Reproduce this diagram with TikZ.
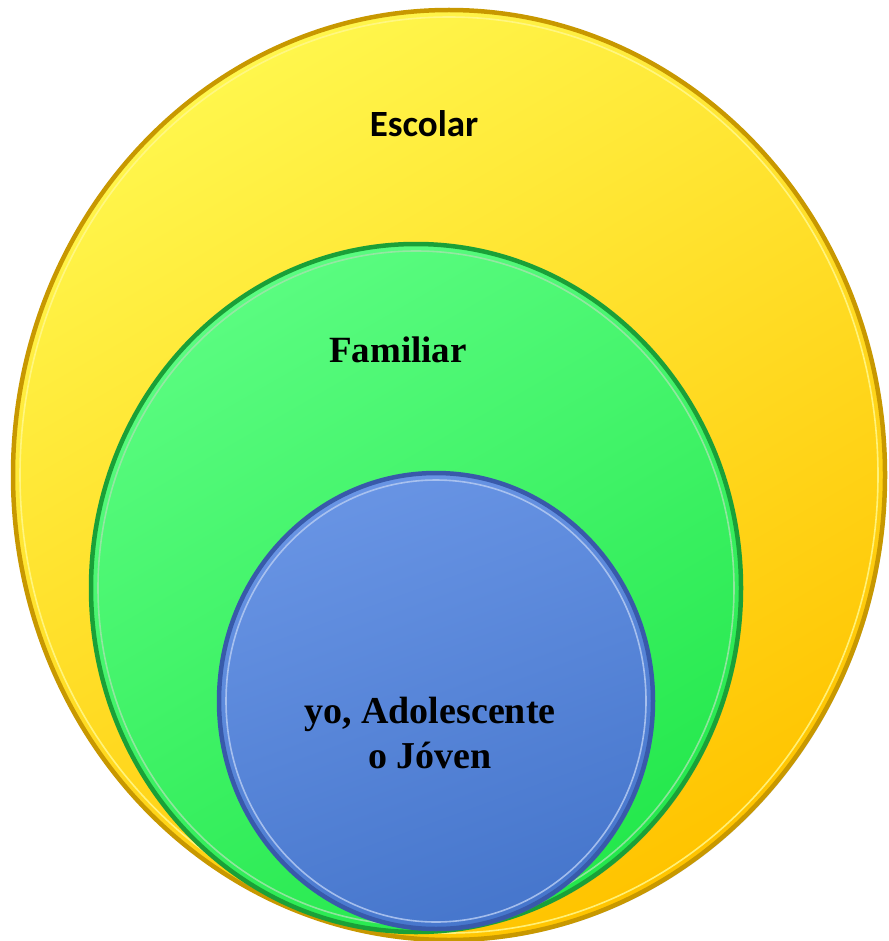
\documentclass[tikz,border=0pt]{standalone}
\usepackage{fontspec}
\setmainfont{Liberation Serif}
\newfontfamily\labelsans{Carlito}
\usetikzlibrary{shapes.geometric,shadows}

\definecolor{yelTop}{RGB}{255,246,76}
\definecolor{yelBot}{RGB}{255,196,0}
\definecolor{yelRim}{RGB}{200,152,0}
\definecolor{yelGlow}{RGB}{255,248,140}
\definecolor{grnTop}{RGB}{90,252,128}
\definecolor{grnBot}{RGB}{36,232,76}
\definecolor{grnRim}{RGB}{26,160,56}
\definecolor{grnGlow}{RGB}{160,228,170}
\definecolor{bluTop}{RGB}{104,148,228}
\definecolor{bluBot}{RGB}{70,118,204}
\definecolor{bluRim}{RGB}{56,90,170}
\definecolor{bluGlow}{RGB}{180,202,242}

\begin{document}
\begin{tikzpicture}[x=1pt,y=-1pt,
  disk/.style={ellipse, inner sep=0pt, draw, line width=4.5pt,
    drop shadow={shadow xshift=1.8pt, shadow yshift=-1.8pt, opacity=0.3}},
  glow/.style={line width=1.6pt, opacity=0.85},
  sanslabel/.style={inner sep=0pt, text=black, font=\labelsans\bfseries\fontsize{37}{44}\selectfont},
  seriflabel/.style={inner sep=0pt, text=black, align=center, font=\bfseries\fontsize{37}{45}\selectfont}]

  \useasboundingbox (0,0) rectangle (888,941);

  % outer ring: school
  \node[disk, draw=yelRim, top color=yelTop, bottom color=yelBot, shading angle=30,
        minimum width=872pt, minimum height=930pt] (escolar) at (449,475) {};
  \draw[yelGlow, glow] (escolar.center) ellipse [x radius=429, y radius=458];

  % middle ring: family
  \node[disk, draw=grnRim, top color=grnTop, bottom color=grnBot, shading angle=30,
        minimum width=650pt, minimum height=688pt] (familiar) at (416,588) {};
  \draw[grnGlow, glow] (familiar.center) ellipse [x radius=318, y radius=337];

  % inner disk: the self
  \node[disk, draw=bluRim, top color=bluTop, bottom color=bluBot, shading angle=20,
        minimum width=434pt, minimum height=456pt] (yo) at (436,701) {};
  \draw[bluGlow, glow] (yo.center) ellipse [x radius=210, y radius=221];

  % labels (base anchor of the two-line label sits on its last line)
  \node[sanslabel, anchor=base] (lblEscolar) at (424,137) {Escolar};
  \node[seriflabel, anchor=base] (lblFamiliar) at (398,362) {Familiar};
  \node[seriflabel, anchor=base, font=\bfseries\fontsize{38}{45}\selectfont] (lblYo) at (430,768) {yo, Adolescente\\o Jóven};
\end{tikzpicture}
\end{document}
